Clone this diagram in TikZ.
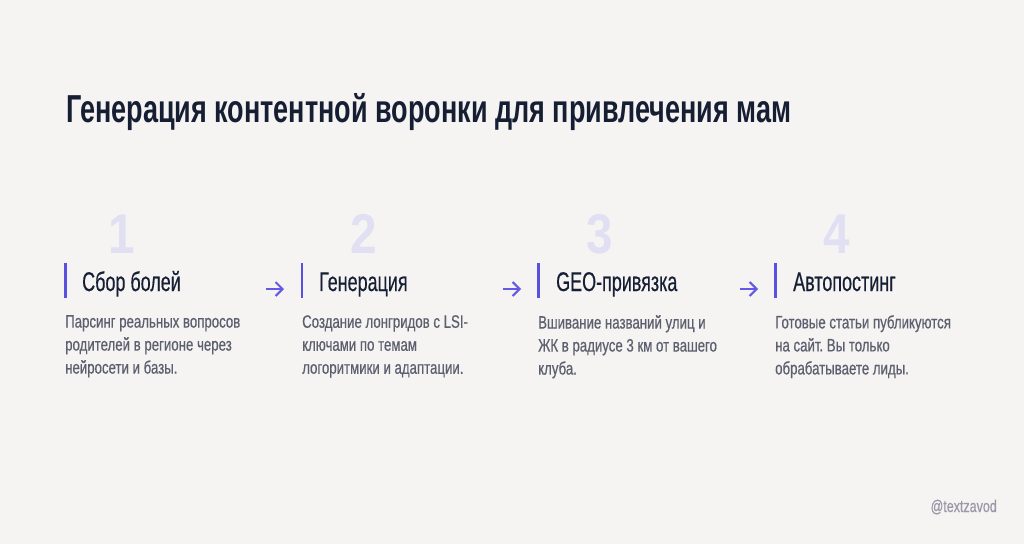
\documentclass[tikz,border=0pt]{standalone}
\usepackage{fontspec}
\setmainfont{Liberation Sans}
\newfontfamily\titlefont{Liberation Sans}[FakeStretch=0.693]
\newfontfamily\headfont{Liberation Sans}[FakeStretch=0.665, FakeBold=0.4]
\newfontfamily\descfont{Liberation Sans}[FakeStretch=0.735, FakeBold=0.5]
\newfontfamily\numfont{Liberation Sans}[FakeStretch=0.85]
\usetikzlibrary{arrows.meta}
\definecolor{bg}{HTML}{F5F4F2}
\definecolor{navy}{HTML}{161E33}
\definecolor{descgray}{HTML}{5C5F6E}
\definecolor{lav}{HTML}{E1E0F3}
\definecolor{indigo}{HTML}{5A50E0}
\definecolor{arrowc}{HTML}{6458E6}
\definecolor{wm}{HTML}{9A98A8}
\frenchspacing
\tikzset{
  titletext/.style={anchor=base west, inner sep=0, text=navy, font=\titlefont\bfseries\fontsize{39}{44}\selectfont},
  numtext/.style={anchor=base, inner sep=0, text=lav, font=\numfont\bfseries\fontsize{56}{60}\selectfont},
  headtext/.style={anchor=base west, inner sep=0, text=navy, font=\headfont\fontsize{27}{30}\selectfont},
  desctext/.style={anchor=north west, inner sep=0, align=left, text=descgray, font=\descfont\fontsize{18}{23}\selectfont},
  accentbar/.style={draw=indigo, line width=2.6pt},
  flowarrow/.style={draw=arrowc, line width=2pt, -{Straight Barb[length=7pt,width=14pt,line width=2pt]}},
}
\begin{document}
\begin{tikzpicture}[x=1pt,y=-1pt]
\fill[bg] (0,0) rectangle (1024,544);
\useasboundingbox (0,0) rectangle (1024,544);
\node[titletext] (title) at (66,122) {Генерация контентной воронки для привлечения мам};
% numbers
\node[numtext] (n1) at (122,253) {1};
\node[numtext] (n2) at (364,253) {2};
\node[numtext] (n3) at (600,253) {3};
\node[numtext] (n4) at (837,253) {4};
% bars
\coordinate (b1t) at (65.5,263); \coordinate (b1b) at (65.5,298);
\coordinate (b2t) at (302,263); \coordinate (b2b) at (302,298);
\coordinate (b3t) at (538.5,263); \coordinate (b3b) at (538.5,298);
\coordinate (b4t) at (775.5,263); \coordinate (b4b) at (775.5,298);
\draw[accentbar] (b1t) -- (b1b);
\draw[accentbar] (b2t) -- (b2b);
\draw[accentbar] (b3t) -- (b3b);
\draw[accentbar] (b4t) -- (b4b);
% headings
\node[headtext] (h1) at (82,291) {Сбор болей};
\node[headtext] (h2) at (319,291) {Генерация};
\node[headtext] (h3) at (556,291) {GEO-привязка};
\node[headtext] (h4) at (793,291) {Автопостинг};
% arrows
\coordinate (a1s) at (266,289); \coordinate (a1e) at (284,289);
\coordinate (a2s) at (503,289); \coordinate (a2e) at (521,289);
\coordinate (a3s) at (740,289); \coordinate (a3e) at (758,289);
\draw[flowarrow] (a1s) -- (a1e);
\draw[flowarrow] (a2s) -- (a2e);
\draw[flowarrow] (a3s) -- (a3e);
% descriptions
\node[desctext] (d1) at (65,315) {Парсинг реальных вопросов\\родителей в регионе через\\нейросети и базы.};
\node[desctext] (d2) at (302,315) {Создание лонгридов с LSI-\\ключами по темам\\логоритмики и адаптации.};
\node[desctext] (d3) at (538,315) {Вшивание названий улиц и\\ЖК в радиусе 3 км от вашего\\клуба.};
\node[desctext] (d4) at (775,315) {Готовые статьи публикуются\\на сайт. Вы только\\обрабатываете лиды.};
% watermark
\node[anchor=base east, inner sep=0, text=wm, font=\descfont\fontsize{17}{20}\selectfont] (wmk) at (997,512) {@textzavod};
\end{tikzpicture}
\end{document}
